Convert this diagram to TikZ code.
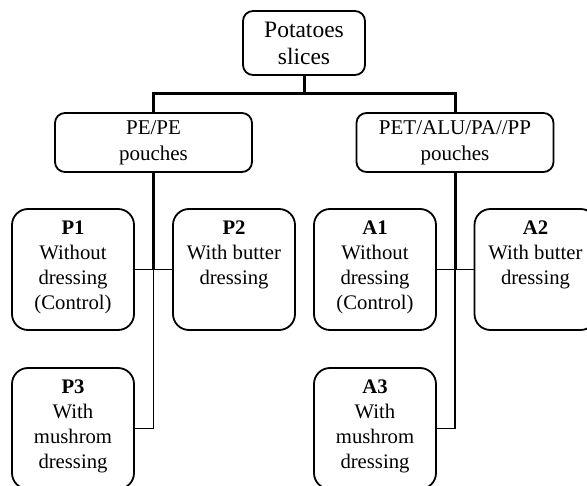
\documentclass[tikz,border=0pt]{standalone}
\usepackage{fontspec}
\setmainfont{Liberation Serif}
\newcommand\leaftext[2]{\parbox[c][121pt][t]{122pt}{\centering\vspace*{12pt}\textbf{#1}\\#2}}
\begin{document}
\begin{tikzpicture}[x=1pt,y=-1pt,
  box/.style={draw, line width=1.8pt, rounded corners=10pt, inner sep=0pt, align=center},
  topbox/.style={box, minimum width=122pt, minimum height=64pt, font=\fontsize{23.5}{27}\selectfont},
  midbox/.style={box, minimum width=197pt, minimum height=59pt, font=\fontsize{21}{26}\selectfont},
  leaf/.style={draw, line width=1.8pt, rounded corners=16pt, inner sep=0pt, minimum width=122pt, minimum height=121pt, font=\fontsize{20.7}{25}\selectfont},
  thickline/.style={line width=3pt},
  thinline/.style={line width=1.8pt}]
\useasboundingbox (0,0) rectangle (587,486);

\node[topbox] (top) at (304,43) {Potatoes\\slices};
\node[midbox] (pe) at (153.5,142.5) {PE/PE\\pouches};
\node[midbox] (pet) at (455,142.5) {PET/ALU/PA//PP\\pouches};

\node[leaf] (p1) at (73,269.5) {\leaftext{P1}{Without\\dressing\\(Control)}};
\node[leaf] (p2) at (234,269.5) {\leaftext{P2}{With butter\\dressing}};
\node[leaf] (p3) at (73,428.5) {\leaftext{P3}{With\\mushrom\\dressing}};

\node[leaf] (a1) at (375,269.5) {\leaftext{A1}{Without\\dressing\\(Control)}};
\node[leaf] (a2) at (535.5,269.5) {\leaftext{A2}{With butter\\dressing}};
\node[leaf] (a3) at (375,428.5) {\leaftext{A3}{With\\mushrom\\dressing}};

\coordinate (j) at (304,94);
\draw[thickline] (top.south) -- (j);
\draw[thickline] (pe.north) |- (j) -| (pet.north);

% left trunk
\draw[thickline] (pe.south) -- (pe.south |- p1.east);
\draw[thinline] (pe.south |- p1.east) -- (pe.south |- p3.east) -- (p3.east);
\draw[thinline] (p1.east) -- (p2.west);

% right trunk
\draw[thickline] (pet.south) -- (pet.south |- a1.east);
\draw[thinline] (pet.south |- a1.east) -- (pet.south |- a3.east) -- (a3.east);
\draw[thinline] (a1.east) -- (a2.west);
\end{tikzpicture}
\end{document}
